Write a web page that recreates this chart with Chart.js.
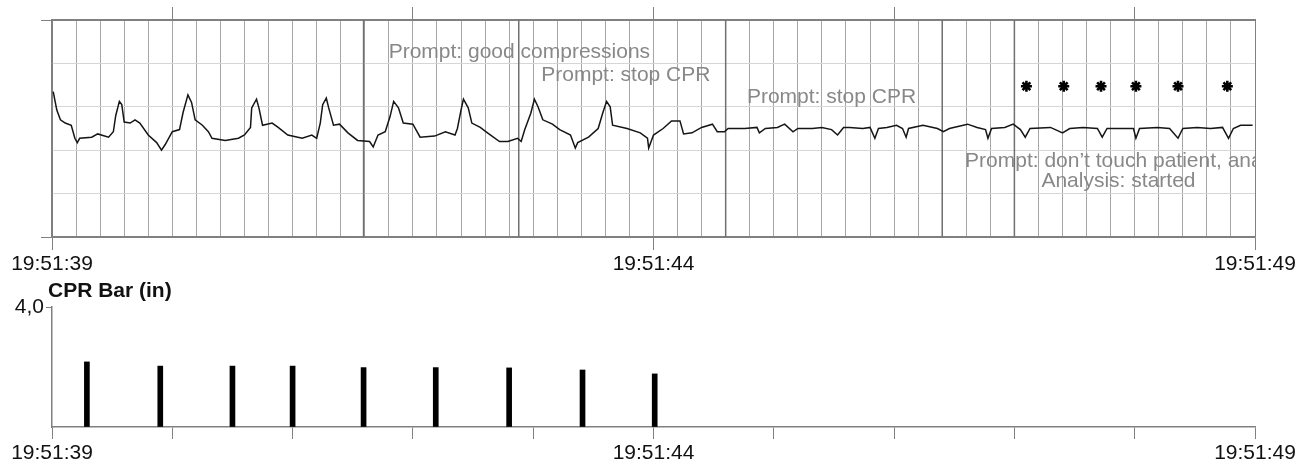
<!DOCTYPE html>
<html>
<head>
<meta charset="utf-8">
<script src="https://cdn.jsdelivr.net/npm/chart.js@4.4.0/dist/chart.umd.min.js"></script>
<style>
  body { margin: 0; background: #fff; width: 1314px; height: 470px; overflow: hidden; position: relative; }
  canvas { position: absolute; left: 0; }
  #ecgChart { top: 0; }
  #cprChart { top: 280px; }
</style>
</head>
<body>
<canvas id="ecgChart" width="1314" height="280"></canvas>
<canvas id="cprChart" width="1314" height="190"></canvas>
<script>
// time axis: seconds after 19:51:39
const labelSeconds = [0, 5, 10];
const timeLabels = ["19:51:39", "19:51:44", "19:51:49"];

// ECG trace (mV)
const ecgTime = [0.01,0.04,0.07,0.11,0.16,0.19,0.21,0.23,0.33,0.38,
  0.47,0.51,0.53,0.56,0.58,0.60,0.65,0.69,0.73,0.80,
  0.87,0.91,0.94,1.00,1.06,1.09,1.13,1.16,1.19,1.25,
  1.30,1.33,1.44,1.55,1.60,1.65,1.66,1.70,1.72,1.75,
  1.83,1.88,1.96,2.08,2.16,2.20,2.23,2.25,2.28,2.30,
  2.34,2.39,2.46,2.54,2.64,2.67,2.71,2.77,2.81,2.84,
  2.88,2.92,3.00,3.06,3.18,3.27,3.35,3.37,3.40,3.42,
  3.46,3.49,3.56,3.62,3.72,3.79,3.87,3.90,3.93,3.98,
  4.01,4.04,4.08,4.16,4.22,4.31,4.35,4.37,4.46,4.54,
  4.58,4.61,4.64,4.66,4.78,4.89,4.95,4.96,5.00,5.08,
  5.15,5.22,5.25,5.32,5.40,5.49,5.53,5.59,5.62,5.76,
  5.86,5.88,5.93,6.03,6.09,6.16,6.20,6.32,6.40,6.48,
  6.53,6.58,6.63,6.74,6.80,6.84,6.87,6.94,7.02,7.07,
  7.10,7.12,7.24,7.36,7.41,7.46,7.61,7.69,7.76,7.78,
  7.81,7.92,7.99,8.05,8.09,8.13,8.30,8.40,8.46,8.57,
  8.69,8.73,8.77,8.90,8.99,9.01,9.04,9.19,9.29,9.36,
  9.40,9.52,9.63,9.73,9.78,9.82,9.88,9.98];
const ecgMv = [0.34,0.17,0.08,0.05,0.03,-0.09,-0.13,-0.09,-0.08,-0.05,
  -0.08,-0.03,0.12,0.25,0.22,0.06,0.05,0.08,0.05,-0.06,
  -0.13,-0.20,-0.15,-0.03,-0.01,0.15,0.31,0.24,0.08,0.03,
  -0.03,-0.09,-0.11,-0.09,-0.06,0.01,0.19,0.27,0.19,0.03,
  0.05,0.01,-0.06,-0.09,-0.06,-0.09,0.05,0.22,0.28,0.19,
  0.03,0.04,-0.04,-0.11,-0.12,-0.17,-0.06,-0.03,0.11,0.25,
  0.19,0.05,0.04,-0.08,-0.07,-0.03,-0.06,0.00,0.17,0.27,
  0.19,0.05,0.01,-0.04,-0.12,-0.12,-0.09,-0.12,-0.01,0.14,
  0.27,0.20,0.08,0.04,-0.01,-0.06,-0.18,-0.13,-0.08,0.00,
  0.15,0.25,0.20,0.03,0.00,-0.04,-0.09,-0.18,-0.06,0.00,
  0.07,0.07,-0.05,-0.04,0.01,0.04,-0.03,-0.03,0.00,0.00,
  0.01,-0.04,0.00,0.01,0.04,-0.03,0.00,0.00,0.01,-0.01,
  -0.06,0.01,0.01,0.00,0.01,-0.09,0.00,0.01,0.03,0.00,
  -0.08,0.00,0.03,0.00,-0.03,0.00,0.04,0.01,-0.01,-0.09,
  0.00,0.01,0.04,-0.01,-0.08,0.00,0.01,-0.04,0.00,0.01,
  0.00,-0.08,0.00,0.00,0.00,-0.09,0.00,0.01,0.00,-0.09,
  0.00,0.01,0.00,0.01,-0.09,0.00,0.03,0.03];

// event markers and prompts
const eventTimes = [2.59, 3.88, 5.60, 7.40, 8.00];
const markTimes = [8.10, 8.41, 8.72, 9.01, 9.36, 9.77];
const markLevel = 0.39;
const noteTexts = ["Prompt: good compressions", "Prompt: stop CPR", "Prompt: stop CPR",
  "Prompt: don\u2019t touch patient, analyzing", "Analysis: started"];
const noteTimes = [3.885, 4.77, 6.48, 9.05, 8.865];
const noteLevels = [0.705, 0.49, 0.29, -0.30, -0.49];

// CPR compression depth (in)
const cprTimes = [0.29, 0.90, 1.50, 2.00, 2.59, 3.19, 3.80, 4.41, 5.01];
const cprDepth = [2.17, 2.03, 2.03, 2.03, 1.98, 1.98, 1.97, 1.90, 1.77];

Chart.defaults.font.family = '"Liberation Sans", Arial, sans-serif';
Chart.defaults.font.size = 21;
Chart.defaults.color = "#111";
Chart.defaults.animation = false;

const near = (a, b) => Math.abs(a - b) < 1e-6;
const timeLabel = v => {
    const i = labelSeconds.findIndex(s => near(s, v));
    return i >= 0 ? timeLabels[i] : "";
};

const notesPlugin = {
    id: "notes",
    afterDatasetsDraw(chart) {
        const { ctx, chartArea, scales } = chart;
        ctx.save();
        ctx.beginPath();
        ctx.rect(chartArea.left, chartArea.top, chartArea.right - chartArea.left, chartArea.bottom - chartArea.top);
        ctx.clip();
        ctx.font = '21px "Liberation Sans", Arial, sans-serif';
        ctx.fillStyle = "#888";
        ctx.textAlign = "center";
        ctx.textBaseline = "middle";
        noteTexts.forEach((txt, i) => {
            ctx.fillText(txt, scales.x.getPixelForValue(noteTimes[i]), scales.y.getPixelForValue(noteLevels[i]));
        });
        ctx.restore();
    }
};

const ecgDatasets = [{
    data: ecgTime.map((t, i) => ({ x: t, y: ecgMv[i] })),
    borderColor: "#151515",
    borderWidth: 1.5,
    pointRadius: 0,
    tension: 0,
    order: 0
}, {
    data: markTimes.map(t => ({ x: t, y: markLevel })),
    showLine: false,
    pointStyle: "star",
    pointRadius: 5.5,
    borderColor: "#000",
    borderWidth: 2.6,
    order: 0
}];
eventTimes.forEach(t => ecgDatasets.push({
    data: [{ x: t, y: -1 }, { x: t, y: 1 }],
    borderColor: "#707070",
    borderWidth: 1.5,
    pointRadius: 0,
    order: 2
}));

new Chart(document.getElementById("ecgChart"), {
    type: "line",
    data: { datasets: ecgDatasets },
    plugins: [notesPlugin],
    options: {
        responsive: false,
        layout: { padding: { left: 0, right: 59, top: 0, bottom: 0 } },
        plugins: { legend: { display: false }, tooltip: { enabled: false } },
        scales: {
            x: {
                type: "linear", position: "bottom", min: 0, max: 10,
                afterFit: s => { s.height = 43; },
                ticks: { stepSize: 0.2, maxTicksLimit: 100, autoSkip: false, maxRotation: 0, padding: 2, callback: timeLabel },
                grid: {
                    color: c => (near(c.tick.value, 0) || near(c.tick.value, 10)) ? "#808080" : "#a6a6a6",
                    tickColor: c => labelSeconds.some(s => near(s, c.tick.value)) ? "#808080" : "rgba(0,0,0,0)",
                    tickLength: 13
                },
                border: { color: "#808080", width: 1.5 }
            },
            xTop: {
                type: "linear", position: "top", min: 0, max: 10,
                afterFit: s => { s.height = 20; },
                afterBuildTicks: s => { s.ticks = [1, 3, 5, 7, 9].map(v => ({ value: v })); },
                ticks: { display: false },
                grid: { drawOnChartArea: false, color: "#808080", tickLength: 13 },
                border: { color: "#808080", width: 1.5 }
            },
            y: {
                min: -1, max: 1,
                afterFit: s => { s.width = 52; },
                ticks: { stepSize: 0.2, callback: () => "" },
                grid: {
                    color: c => near(Math.abs(c.tick.value), 1) ? "#808080" : "#d6d6d6",
                    tickColor: c => (near(c.tick.value, 0) || near(Math.abs(c.tick.value), 1)) ? "#808080" : "rgba(0,0,0,0)",
                    tickLength: 11
                },
                border: { color: "#808080", width: 1.5 }
            }
        }
    }
});

const cprTitlePlugin = {
    id: "cprTitle",
    afterDraw(chart) {
        const { ctx } = chart;
        ctx.save();
        ctx.font = 'bold 21px "Liberation Sans", Arial, sans-serif';
        ctx.fillStyle = "#111";
        ctx.textAlign = "left";
        ctx.textBaseline = "middle";
        ctx.fillText("CPR Bar (in)", 48, 11);
        ctx.restore();
    }
};

new Chart(document.getElementById("cprChart"), {
    type: "bar",
    data: {
        datasets: [{
            data: cprTimes.map((t, i) => ({ x: t, y: cprDepth[i] })),
            backgroundColor: "#000",
            barThickness: 5
        }]
    },
    plugins: [cprTitlePlugin],
    options: {
        responsive: false,
        layout: { padding: { left: 0, right: 59, top: 27, bottom: 0 } },
        plugins: { legend: { display: false }, tooltip: { enabled: false } },
        scales: {
            x: {
                type: "linear", min: 0, max: 10, offset: false,
                afterFit: s => { s.height = 43; },
                ticks: { stepSize: 1, autoSkip: false, maxRotation: 0, padding: 2, callback: timeLabel },
                grid: { offset: false, drawOnChartArea: false, color: "#808080", tickLength: 12 },
                border: { color: "#808080", width: 1.5 }
            },
            y: {
                min: 0, max: 4,
                afterFit: s => { s.width = 52; },
                ticks: { stepSize: 4, padding: 2, callback: v => near(v, 4) ? "4,0" : "" },
                grid: {
                    drawOnChartArea: false,
                    tickColor: c => near(c.tick.value, 4) ? "#808080" : "rgba(0,0,0,0)",
                    tickLength: 6
                },
                border: { color: "#808080", width: 1.5 }
            }
        }
    }
});
</script>
</body>
</html>
